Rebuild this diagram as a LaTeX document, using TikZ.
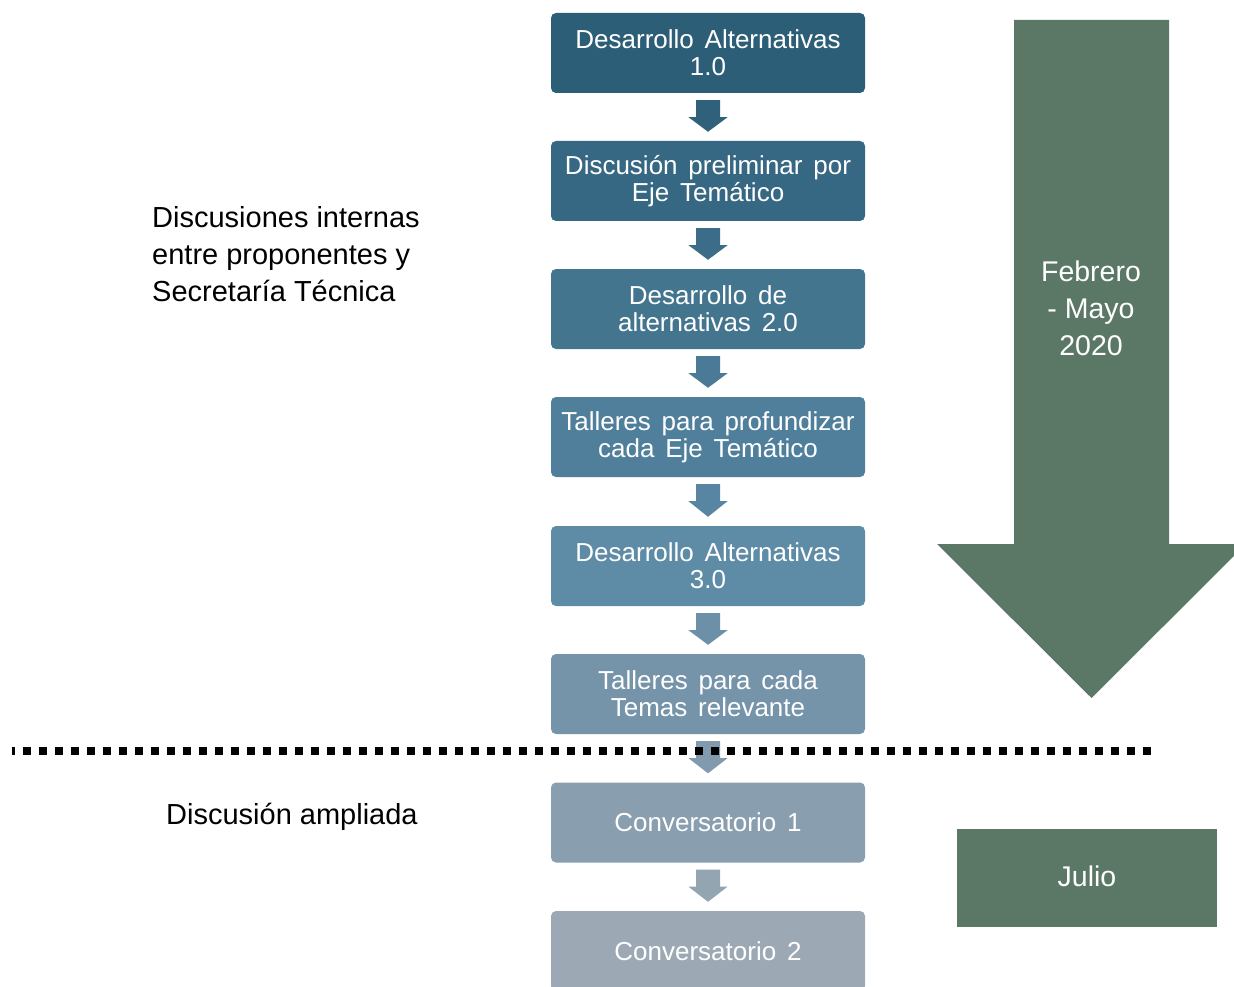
\documentclass[tikz,border=0pt]{standalone}
\usepackage{fontspec}
\setmainfont{Liberation Sans}
\usetikzlibrary{calc}

\definecolor{sA}{HTML}{2D5E77}
\definecolor{sB}{HTML}{376883}
\definecolor{sC}{HTML}{44758F}
\definecolor{sD}{HTML}{507F9B}
\definecolor{sE}{HTML}{5E8BA6}
\definecolor{sF}{HTML}{7593A9}
\definecolor{sG}{HTML}{899EAF}
\definecolor{sH}{HTML}{9CA9B5}
\definecolor{period}{HTML}{5B7866}

% stage lettering: 26pt with widened interword spaces
\newcommand\stagefont{\fontsize{26}{27}\selectfont\spaceskip 10.8pt\relax}

% block arrow linking two stacked stages
\newcommand\stagelink[3]{%
  \fill[#3] ($(#1.south)+(-12,7)$) -- ($(#1.south)+(12,7)$) --
    ($(#1.south)+(12,24)$) -- ($(#1.south)+(19.5,24)$) --
    ($(#2.north)+(0,-9)$) -- ($(#1.south)+(-19.5,24)$) --
    ($(#1.south)+(-12,24)$) -- cycle;}

\tikzset{
  stage/.style={rectangle, rounded corners=5pt, minimum width=314pt,
    minimum height=80pt, inner sep=0pt, text=white, align=center,
    font=\stagefont},
  note/.style={anchor=west, align=left, inner sep=0pt,
    font=\fontsize{29}{37}\selectfont},
  monthtext/.style={align=center, inner sep=0pt, text=white,
    font=\fontsize{28.5}{37}\selectfont}
}

\begin{document}
\begin{tikzpicture}[x=1pt,y=-1pt]
\useasboundingbox (0,0) rectangle (1234,987);
\clip (0,0) rectangle (1234,987);

% stages
\node[stage, fill=sA] (b1) at (708,53) {Desarrollo Alternativas\\1.0};
\node[stage, fill=sB] (b2) at (708,181) {Discusión preliminar por\\Eje Temático};
\node[stage, fill=sC] (b3) at (708,309) {Desarrollo de\\alternativas 2.0};
\node[stage, fill=sD] (b4) at (708,437) {Talleres para profundizar\\cada Eje Temático};
\node[stage, fill=sE] (b5) at (708,566) {Desarrollo Alternativas\\3.0};
\node[stage, fill=sF] (b6) at (708,694) {Talleres para cada\\Temas relevante};
\node[stage, fill=sG] (b7) at (708,822.5) {Conversatorio 1};
\node[stage, fill=sH] (b8) at (708,951) {Conversatorio 2};

% links
\stagelink{b1}{b2}{sA!70!sB}
\stagelink{b2}{b3}{sB!60!sC}
\stagelink{b3}{b4}{sC!50!sD}
\stagelink{b4}{b5}{sD!40!sE}
\stagelink{b5}{b6}{sE!40!sF}
\stagelink{b6}{b7}{sF!40!sG}
\stagelink{b7}{b8}{sG!40!sH}

% phase separator
\draw[line width=8pt, dash pattern=on 8pt off 8pt, dash phase=5pt]
  (12,751) -- (1151,751);

% side notes
\node[note] (n1) at (152,254) {Discusiones internas\\entre proponentes y\\Secretaría Técnica};
\node[note] (n2) at (166,816.5) {Discusión ampliada};

% time span arrow
\fill[period] (1014,20) -- (1169,20) -- (1169,544) -- (1246,544) --
  (1091.5,698) -- (937,544) -- (1014,544) -- cycle;
\node[monthtext] (feb) at (1091,308.5) {Febrero\\- Mayo\\2020};

% July block
\fill[period] (957,829) rectangle (1217,927);
\node[text=white, inner sep=0pt, font=\fontsize{28.5}{34}\selectfont]
  (jul) at (1087,876) {Julio};
\end{tikzpicture}
\end{document}
